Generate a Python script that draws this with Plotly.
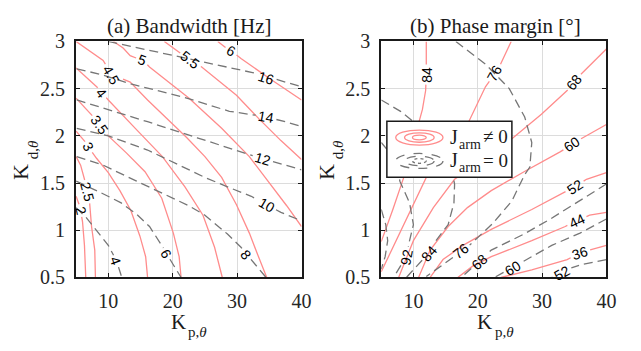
import math
import plotly.graph_objects as go

# ===================== data =====================
# (a) Bandwidth [Hz] -- solid pink: J_arm != 0
bw_flex_levels = [2, 2.5, 3, 3.5, 4, 4.5, 5, 5.5, 6]
bw_flex_kp = [
    [5.0, 5.4, 5.7, 6.0, 6.3, 6.5],
    [5.0, 5.7, 6.3, 6.8, 7.1, 7.4, 7.9, 8.0],
    [5.0, 6.5, 6.9, 8.2, 10.0, 11.8, 13.5, 14.9, 15.8, 16.1],
    [5.0, 7.7, 8.8, 10.0, 12.8, 15.7, 18.3, 20.1, 21.0, 21.3],
    [5.0, 8.5, 9.1, 10.0, 14.6, 18.4, 21.9, 24.7, 26.5, 27.7],
    [5.0, 9.2, 10.5, 13.4, 16.1, 19.2, 22.2, 25.0, 27.6, 29.9, 31.9, 33.2, 34.6],
    [10.8, 12.3, 13.4, 14.1, 15.4, 16.4, 22.5, 27.6, 31.9, 35.2, 37.7, 40.0],
    [18.7, 21.5, 22.7, 24.5, 29.9, 33.4, 36.8, 40.0],
    [27.0, 28.5, 29.1, 30.6, 35.2, 40.0],
]
bw_flex_kd = [
    [1.36, 1.29, 1.21, 1.09, 0.84, 0.50],
    [1.78, 1.69, 1.54, 1.41, 1.29, 1.04, 0.79, 0.50],
    [2.05, 1.93, 1.88, 1.76, 1.61, 1.42, 1.21, 0.94, 0.72, 0.50],
    [2.40, 2.20, 2.10, 2.00, 1.82, 1.62, 1.34, 0.97, 0.72, 0.50],
    [2.72, 2.50, 2.45, 2.38, 2.05, 1.78, 1.46, 1.16, 0.82, 0.50],
    [3.00, 2.80, 2.65, 2.57, 2.38, 2.18, 1.98, 1.78, 1.56, 1.27, 0.97, 0.74, 0.50],
    [3.00, 2.93, 2.85, 2.83, 2.80, 2.73, 2.40, 2.08, 1.78, 1.49, 1.26, 1.04],
    [3.00, 2.86, 2.80, 2.73, 2.43, 2.18, 1.95, 1.75],
    [3.00, 2.92, 2.90, 2.82, 2.60, 2.38],
]
bw_flex_label_kp = [5.7, 6.8, 6.9, 8.6, 8.9, 10.5, 15.3, 22.7, 29.1]
bw_flex_label_kd = [1.21, 1.41, 1.88, 2.11, 2.45, 2.65, 2.80, 2.80, 2.90]

# (a) Bandwidth [Hz] -- dashed gray: J_arm = 0
bw_rigid_levels = [4, 6, 8, 10, 12, 14, 16]
bw_rigid_kp = [
    [5.0, 6.5, 8.5, 10.0, 11.1, 11.8, 12.1],
    [5.0, 8.5, 12.0, 14.4, 16.4, 17.9, 19.0, 20.2, 21.3],
    [5.1, 9.2, 14.4, 19.5, 22.5, 25.0, 28.5, 30.6, 32.3, 33.5, 34.5],
    [5.1, 10.0, 16.1, 21.9, 25.0, 28.5, 32.2, 34.6, 36.8, 40.0],
    [5.1, 10.0, 16.1, 23.8, 31.4, 34.0, 37.5, 40.0],
    [5.1, 8.9, 13.5, 21.7, 28.8, 31.9, 34.5, 37.5, 40.0],
    [10.0, 17.6, 21.7, 25.3, 32.4, 34.5, 37.5, 40.0],
]
bw_rigid_kd = [
    [1.24, 1.14, 0.97, 0.84, 0.70, 0.57, 0.50],
    [1.52, 1.41, 1.29, 1.17, 1.04, 0.89, 0.76, 0.62, 0.50],
    [1.78, 1.69, 1.52, 1.36, 1.26, 1.16, 0.96, 0.82, 0.68, 0.58, 0.50],
    [2.08, 2.00, 1.85, 1.66, 1.56, 1.46, 1.36, 1.27, 1.19, 1.10],
    [2.38, 2.28, 2.15, 1.98, 1.81, 1.76, 1.69, 1.64],
    [2.71, 2.65, 2.55, 2.41, 2.26, 2.23, 2.20, 2.15, 2.10],
    [3.00, 2.89, 2.83, 2.78, 2.67, 2.63, 2.57, 2.52],
]
bw_rigid_label_kp = [11.1, 19.0, 31.4, 34.6, 34.0, 34.5, 34.5]
bw_rigid_label_kd = [0.67, 0.75, 0.74, 1.27, 1.76, 2.20, 2.61]

# (b) Phase margin [deg] -- solid pink: J_arm != 0
pm_flex_levels = [84, 76, 68, 60, 52, 44, 36]
pm_flex_kp = [
    [12.0, 12.0, 12.0, 11.9, 11.4, 10.6, 9.5, 8.5, 6.8, 5.0],
    [25.2, 23.9, 22.7, 21.2, 18.6, 15.4, 12.0, 8.5, 5.0],
    [40.0, 38.0, 36.0, 35.0, 33.9, 29.9, 25.5, 20.7, 16.4, 13.1, 10.0, 7.7],
    [40.0, 36.3, 34.7, 32.8, 27.2, 22.1, 18.4, 15.4, 12.6, 10.8],
    [40.0, 36.9, 35.1, 33.1, 28.4, 22.1, 17.7, 14.6, 12.6],
    [40.0, 37.4, 35.4, 33.6, 28.4, 22.1, 19.2, 16.9],
    [40.0, 37.4, 35.9, 33.9, 28.4, 23.6],
]
pm_flex_kd = [
    [3.00, 2.78, 2.65, 2.48, 2.28, 2.08, 1.83, 1.56, 1.22, 0.88],
    [3.00, 2.80, 2.66, 2.52, 2.15, 1.85, 1.56, 1.06, 0.56],
    [2.92, 2.78, 2.65, 2.57, 2.48, 2.23, 1.98, 1.74, 1.54, 1.24, 0.89, 0.50],
    [2.12, 1.98, 1.91, 1.83, 1.62, 1.42, 1.24, 1.04, 0.79, 0.50],
    [1.61, 1.54, 1.46, 1.39, 1.22, 1.01, 0.84, 0.69, 0.50],
    [1.19, 1.16, 1.10, 1.04, 0.89, 0.72, 0.62, 0.50],
    [0.84, 0.79, 0.76, 0.69, 0.58, 0.50],
]
pm_flex_label_kp = [12.0, 22.6, 35.0, 34.7, 35.1, 35.4, 35.9]
pm_flex_label_kd = [2.65, 2.67, 2.57, 1.91, 1.46, 1.10, 0.76]

# (b) Phase margin [deg] -- dashed gray: J_arm = 0
pm_rigid_levels = [76, 84, 92, 100, 68, 60, 52]
pm_rigid_kp = [
    [16.6, 21.2, 24.9, 27.3, 28.4, 28.1, 27.3, 25.3, 22.3, 18.7, 16.1, 12.0],
    [5.0, 8.0, 10.0, 13.8, 15.8, 16.4, 16.3, 15.4, 13.5, 12.5, 10.8, 8.9],
    [5.0, 6.2, 7.4, 7.9, 9.4, 10.0, 9.4, 8.9, 7.7, 6.9],
    [5.0, 5.7, 6.0, 5.6, 5.0],
    [40.0, 36.9, 31.3, 27.2, 22.1, 20.3, 18.4, 17.4],
    [40.0, 35.9, 31.5, 28.4, 25.5, 22.6],
    [40.0, 36.3, 34.5, 33.1, 31.5],
]
pm_rigid_kd = [
    [3.00, 2.76, 2.50, 2.20, 1.93, 1.67, 1.59, 1.31, 1.07, 0.84, 0.71, 0.51],
    [2.38, 2.26, 2.15, 1.88, 1.69, 1.49, 1.29, 1.06, 0.89, 0.77, 0.64, 0.50],
    [1.93, 1.83, 1.69, 1.52, 1.29, 1.06, 0.89, 0.72, 0.59, 0.50],
    [1.22, 1.06, 0.89, 0.72, 0.59],
    [1.49, 1.36, 1.12, 0.96, 0.79, 0.67, 0.56, 0.50],
    [1.12, 0.97, 0.84, 0.72, 0.61, 0.50],
    [0.69, 0.64, 0.60, 0.55, 0.50],
]
pm_rigid_label_kp = [17.4, 12.5, 8.9, None, 20.3, 25.5, 33.1]
pm_rigid_label_kd = [0.78, 0.76, 0.72, None, 0.66, 0.60, 0.55]

x_ticks = [10, 20, 30, 40]
y_ticks = [0.5, 1, 1.5, 2, 2.5, 3]
y_tick_text = ["0.5", "1", "1.5", "2", "2.5", "3"]

# ===================== layout geometry (pixels) =====================
W, H = 641, 351
XR, YR = (5, 40), (0.5, 3)
PANEL_X = {"a": (77.3, 306.3), "b": (387.3, 616.0)}
Y_TOP, Y_BOT = 32.5, 284.3
PINK = "#ff8c8c"
GRAY = "#767676"
LABEL_SIZE = 14
LABEL_FONT = dict(family="Liberation Sans", size=LABEL_SIZE, color="black")
SERIF = "Liberation Serif"
INK = "#1a1a1a"


def to_px(kp, kd, panel):
    x0, x1 = PANEL_X[panel]
    return (x0 + (kp - XR[0]) / (XR[1] - XR[0]) * (x1 - x0),
            Y_BOT - (kd - YR[0]) / (YR[1] - YR[0]) * (Y_BOT - Y_TOP))


def from_px(px, py, panel):
    x0, x1 = PANEL_X[panel]
    return (XR[0] + (px - x0) / (x1 - x0) * (XR[1] - XR[0]),
            YR[0] + (Y_BOT - py) / (Y_BOT - Y_TOP) * (YR[1] - YR[0]))


def fmt(v):
    return ("%g" % v)


def text_len(s, size=LABEL_SIZE):
    w = 0.0
    for ch in s:
        w += 0.278 * size if ch == "." else 0.556 * size
    return w


def gap_polyline(pts, c, r):
    """Remove the part of the polyline inside a circle (clabel-like gap)."""
    pieces = []
    for (ax, ay), (bx, by) in zip(pts[:-1], pts[1:]):
        dx, dy = bx - ax, by - ay
        fx, fy = ax - c[0], ay - c[1]
        a = dx * dx + dy * dy
        b = 2 * (fx * dx + fy * dy)
        cc = fx * fx + fy * fy - r * r
        disc = b * b - 4 * a * cc
        if a == 0 or disc <= 0:
            pieces.append((0.0, 1.0, ax, ay, dx, dy))
            continue
        sq = math.sqrt(disc)
        t1, t2 = (-b - sq) / (2 * a), (-b + sq) / (2 * a)
        if t1 > 0:
            pieces.append((0.0, min(t1, 1.0), ax, ay, dx, dy))
        if t2 < 1:
            pieces.append((max(t2, 0.0), 1.0, ax, ay, dx, dy))
    paths = []
    for ta, tb, ax, ay, dx, dy in pieces:
        if tb <= ta:
            continue
        p = (ax + ta * dx, ay + ta * dy)
        q = (ax + tb * dx, ay + tb * dy)
        if paths and abs(paths[-1][-1][0] - p[0]) < 1e-6 and abs(paths[-1][-1][1] - p[1]) < 1e-6:
            paths[-1].append(q)
        else:
            paths.append([p, q])
    return paths


def label_angle(pts, c):
    best, ang = 1e18, 0.0
    for (ax, ay), (bx, by) in zip(pts[:-1], pts[1:]):
        dx, dy = bx - ax, by - ay
        L = dx * dx + dy * dy
        t = 0 if L == 0 else max(0, min(1, ((c[0] - ax) * dx + (c[1] - ay) * dy) / L))
        d = (ax + t * dx - c[0]) ** 2 + (ay + t * dy - c[1]) ** 2
        if d < best:
            best, ang = d, math.degrees(math.atan2(dy, dx))
    while ang > 80:
        ang -= 180
    while ang <= -100:
        ang += 180
    return ang


fig = go.Figure()
annotations = []


def add_family(panel, kps, kds, levels, lkp, lkd, color, dash):
    xa, ya = ("x", "y") if panel == "a" else ("x2", "y2")
    for kp, kd, lev, lx, ly in zip(kps, kds, levels, lkp, lkd):
        pts = [to_px(a, b, panel) for a, b in zip(kp, kd)]
        if lx is not None:
            c = to_px(lx, ly, panel)
            txt = fmt(lev)
            paths = gap_polyline(pts, c, text_len(txt) / 2 + 3)
            annotations.append(dict(
                x=lx, y=ly, xref=xa, yref=ya, text=txt, showarrow=False,
                textangle=round(label_angle(pts, c), 1), font=LABEL_FONT,
                xanchor="center", yanchor="middle"))
        else:
            paths = [pts]
        xs, ys = [], []
        for p in paths:
            for (px, py) in p:
                u, v = from_px(px, py, panel)
                xs.append(u)
                ys.append(v)
            xs.append(None)
            ys.append(None)
        fig.add_trace(go.Scatter(
            x=xs, y=ys, mode="lines", xaxis=xa, yaxis=ya, showlegend=False,
            hoverinfo="skip",
            line=dict(color=color, width=1.3, dash=dash)))


DASH = "9px,5px"
add_family("a", bw_flex_kp, bw_flex_kd, bw_flex_levels, bw_flex_label_kp, bw_flex_label_kd, PINK, "solid")
add_family("a", bw_rigid_kp, bw_rigid_kd, bw_rigid_levels, bw_rigid_label_kp, bw_rigid_label_kd, GRAY, DASH)
add_family("b", pm_flex_kp, pm_flex_kd, pm_flex_levels, pm_flex_label_kp, pm_flex_label_kd, PINK, "solid")
add_family("b", pm_rigid_kp, pm_rigid_kd, pm_rigid_levels, pm_rigid_label_kp, pm_rigid_label_kd, GRAY, DASH)


def px2paper(px, py):
    return px / W, 1 - py / H


axis_common = dict(
    range=list(XR), showgrid=True, gridcolor="#dcdcdc", gridwidth=1,
    showline=True, linecolor=INK, linewidth=2, mirror="allticks",
    ticks="inside", ticklen=4, tickwidth=1.2, tickcolor=INK,
    tickfont=dict(family=SERIF, size=20, color="#262626"), zeroline=False,
    fixedrange=True)

fig.update_layout(
    width=W, height=H, margin=dict(l=0, r=0, t=0, b=0),
    paper_bgcolor="white", plot_bgcolor="white", showlegend=False,
    font=dict(family=SERIF, size=20, color=INK),
    xaxis=dict(axis_common, domain=[PANEL_X["a"][0] / W, PANEL_X["a"][1] / W],
               tickvals=x_ticks, anchor="y", ticklabelstandoff=5),
    yaxis=dict(axis_common, range=list(YR), domain=[1 - Y_BOT / H, 1 - Y_TOP / H],
               tickvals=y_ticks, ticktext=y_tick_text, anchor="x", ticklabelstandoff=5),
    xaxis2=dict(axis_common, domain=[PANEL_X["b"][0] / W, PANEL_X["b"][1] / W],
                tickvals=x_ticks, anchor="y2", ticklabelstandoff=5),
    yaxis2=dict(axis_common, range=list(YR), domain=[1 - Y_BOT / H, 1 - Y_TOP / H],
                tickvals=y_ticks, ticktext=y_tick_text, anchor="x2", ticklabelstandoff=5),
)


def add_text(px, py, txt, size, ang=0, xanchor="center"):
    u, v = px2paper(px, py)
    annotations.append(dict(x=u, y=v, xref="paper", yref="paper", text=txt,
                            showarrow=False, textangle=ang,
                            font=dict(family=SERIF, size=size, color=INK),
                            xanchor=xanchor, yanchor="middle"))


# panel titles
add_text(191.5, 16, "(a) Bandwidth [Hz]", 21)
add_text(503.5, 16, "(b) Phase margin [°]", 21)
# x-axis titles: K with subscript p,θ
for kx in (181, 492.5):
    add_text(kx, 332, "K", 21)
    add_text(kx + 8, 342, "p,<i>θ</i>", 15, xanchor="left")
# y-axis titles: K with subscript d,θ (rotated)
for kx in (21, 331):
    add_text(kx, 172, "K", 22, ang=-90)
    add_text(kx + 12, 148, "d,<i>θ</i>", 15, ang=-90)

# custom legend (concentric ellipses) in panel (b)
shapes = []
lx0, ly0 = px2paper(393, 117.5)
lx1, ly1 = px2paper(520, 177.5)
shapes.append(dict(type="rect", xref="paper", yref="paper", x0=lx0, x1=lx1, y0=ly1, y1=ly0,
                   fillcolor="white", line=dict(color=INK, width=1.5), layer="above"))
for cy, color, dash in [(135, PINK, "solid"), (160, GRAY, "dash")]:
    for rx, ry in [(24, 8), (15, 5), (7, 2.5)]:
        ax0, ay0 = px2paper(426 - rx, cy - ry)
        ax1, ay1 = px2paper(426 + rx, cy + ry)
        shapes.append(dict(type="circle", xref="paper", yref="paper", x0=ax0, x1=ax1,
                           y0=ay1, y1=ay0,
                           line=dict(color=color, width=1.3,
                                     dash=dash if rx > 10 else ("solid" if dash == "solid" else "3px,3px")),
                           layer="above"))
for cy, rel in [(134, "≠ 0"), (159, "= 0")]:
    add_text(455, cy, "J", 20, xanchor="left")
    add_text(464, cy + 8, "arm", 14, xanchor="left")
    add_text(489, cy, rel, 19, xanchor="left")

fig.update_layout(annotations=annotations, shapes=shapes)
fig.write_html("out.html")
